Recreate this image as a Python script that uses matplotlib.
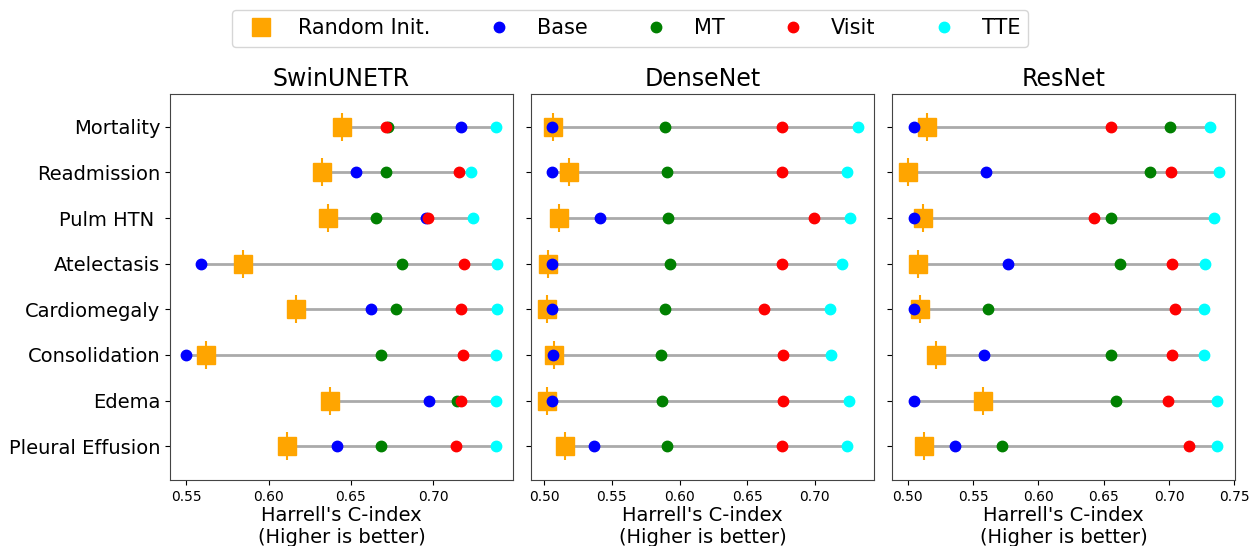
import numpy as np
import matplotlib
matplotlib.use("Agg")
import matplotlib.pyplot as plt

tasks = ["Mortality", "Readmission", "Pulm HTN ", "Atelectasis", "Cardiomegaly",
         "Consolidation", "Edema", "Pleural Effusion"]
models = ["SwinUNETR", "DenseNet", "ResNet"]
methods = ["Random Init.", "Base", "MT", "Visit", "TTE"]
colors = ["orange", "blue", "green", "red", "cyan"]

# C-index per model, one list per method (task order as above)
swin = {
    "Random Init.": [0.6445, 0.6326, 0.6364, 0.5846, 0.6166, 0.5617, 0.6374, 0.6115],
    "Base":         [0.7172, 0.6534, 0.6960, 0.5587, 0.6623, 0.5496, 0.6974, 0.6415],
    "MT":           [0.6729, 0.6715, 0.6656, 0.6814, 0.6773, 0.6682, 0.7144, 0.6682],
    "Visit":        [0.6715, 0.7160, 0.6972, 0.7190, 0.7172, 0.7180, 0.7170, 0.7140],
    "TTE":          [0.7383, 0.7231, 0.7241, 0.7391, 0.7391, 0.7383, 0.7383, 0.7383],
}
dense = {
    "Random Init.": [0.5067, 0.5185, 0.5106, 0.5025, 0.5017, 0.5074, 0.5017, 0.5156],
    "Base":         [0.5054, 0.5054, 0.5415, 0.5057, 0.5057, 0.5067, 0.5057, 0.5365],
    "MT":           [0.5894, 0.5904, 0.5916, 0.5933, 0.5894, 0.5864, 0.5874, 0.5904],
    "Visit":        [0.6756, 0.6756, 0.6993, 0.6756, 0.6625, 0.6763, 0.6763, 0.6756],
    "TTE":          [0.7323, 0.7235, 0.7264, 0.7202, 0.7114, 0.7123, 0.7252, 0.7235],
}
resnet = {
    "Random Init.": [0.5151, 0.5000, 0.5120, 0.5079, 0.5097, 0.5219, 0.5579, 0.5128],
    "Base":         [0.5051, 0.5597, 0.5051, 0.5770, 0.5048, 0.5587, 0.5051, 0.5360],
    "MT":           [0.7005, 0.6857, 0.6556, 0.6628, 0.5617, 0.6556, 0.6594, 0.5719],
    "Visit":        [0.6556, 0.7015, 0.6429, 0.7023, 0.7046, 0.7023, 0.6995, 0.7156],
    "TTE":          [0.7311, 0.7385, 0.7344, 0.7276, 0.7265, 0.7265, 0.7365, 0.7365],
}
results = [swin, dense, resnet]

xticks = [[0.55, 0.60, 0.65, 0.70],
          [0.50, 0.55, 0.60, 0.65, 0.70],
          [0.50, 0.55, 0.60, 0.65, 0.70, 0.75]]

fig, axes = plt.subplots(1, 3, figsize=(12.5, 5.46), dpi=100, sharey=True)
fig.subplots_adjust(left=0.136, right=0.988, top=0.828, bottom=0.121, wspace=0.0525)

y = np.arange(len(tasks))
for ax, name, res, xt in zip(axes, models, results, xticks):
    allv = np.array([res[m] for m in methods])
    ax.hlines(y, allv.min(axis=0), allv.max(axis=0), color="#aaaaaa", lw=2, zorder=1)
    ri = res["Random Init."]
    ax.plot(ri, y, "|", color="orange", ms=20, mew=1.5, zorder=2)
    ax.plot(ri, y, "s", color="orange", ms=13, zorder=2, label="Random Init.")
    for m, c in zip(methods[1:], colors[1:]):
        ax.plot(res[m], y, "o", color=c, ms=7.5, zorder=3, label=m)
    ax.set_title(name, fontsize=17)
    ax.set_xlabel("Harrell's C-index\n(Higher is better)", fontsize=14, labelpad=2)
    ax.set_xticks(xt)
    ax.tick_params(axis="x", labelsize=10)
    for s in ax.spines.values():
        s.set_color("#444444")

axes[0].set_yticks(y)
axes[0].set_yticklabels(tasks, fontsize=14)
axes[0].set_ylim(7.74, -0.72)

handles, labels = axes[0].get_legend_handles_labels()
fig.legend(handles, labels, loc="center", bbox_to_anchor=(0.504, 0.948), ncol=5,
           fontsize=15, columnspacing=2.3, markerscale=1.0)

plt.savefig("out.png")
